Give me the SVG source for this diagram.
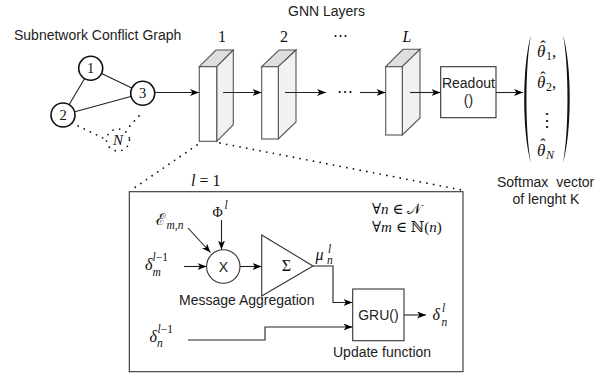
<svg xmlns="http://www.w3.org/2000/svg" width="613" height="377" viewBox="0 0 613 377">
<defs>
<marker id="ah" markerUnits="userSpaceOnUse" markerWidth="10" markerHeight="8" refX="9" refY="3.5" orient="auto">
<path d="M0,0 L9,3.5 L0,7 L2.5,3.5 z" fill="#000"/>
</marker>
<style>
.s{font-family:"Liberation Sans",Arial,sans-serif;font-size:14px;fill:#222}
.m{font-family:"Liberation Serif","DejaVu Serif",serif;fill:#111}
.i{font-style:italic}
.ln{fill:none;stroke:#222;stroke-width:1.1}
.ar{fill:none;stroke:#222;stroke-width:1.1;marker-end:url(#ah)}
.dot{fill:none;stroke:#111;stroke-width:1.8;stroke-dasharray:0 6.8;stroke-linecap:round}
.front{fill:#fff;stroke:#555;stroke-width:1.1}
.top{fill:#dedede;stroke:#555;stroke-width:1.1}
.side{fill:#f1f1f1;stroke:#555;stroke-width:1.1}
.node{fill:#fff;stroke:#111;stroke-width:1.6}
.box{fill:#fff;stroke:#333;stroke-width:1.1}
.hat{font-style:normal;font-size:16px}
.sub{font-style:normal;font-size:12px}
</style>
</defs>
<rect width="613" height="377" fill="#fff"/>

<g id="graph">
<text class="s" x="14" y="40">Subnetwork Conflict Graph</text>
<g class="ln" stroke="#444">
<line x1="90.7" y1="68.3" x2="142.7" y2="93.3"/>
<line x1="90.7" y1="68.3" x2="63" y2="115"/>
<line x1="63" y1="115" x2="142.7" y2="93.3"/>
</g>
<path class="dot" d="M72,123 L104,138.5"/>
<path class="dot" d="M139,116 L127.5,128.5"/>
<ellipse class="dot" cx="118" cy="140" rx="11.5" ry="11"/>
<text class="m i" x="118" y="145" font-size="15" text-anchor="middle">N</text>
<g id="n1"><circle class="node" cx="90.7" cy="68.3" r="12"/><text class="m" x="90.7" y="73.3" font-size="14.5" text-anchor="middle">1</text></g>
<g id="n2"><circle class="node" cx="63" cy="115" r="12"/><text class="m" x="63" y="120" font-size="14.5" text-anchor="middle">2</text></g>
<g id="n3"><circle class="node" cx="142.7" cy="93.3" r="12"/><text class="m" x="142.7" y="98.3" font-size="14.5" text-anchor="middle">3</text></g>
</g>

<text class="s" x="288" y="15.5">GNN Layers</text>

<g id="layer1">
<text class="m" x="222" y="42" font-size="16" text-anchor="middle">1</text>
<polygon class="top" points="199.3,66.7 216,50 233.3,50 216.7,66.7"/>
<polygon class="side" points="216.7,66.7 233.3,50 233.3,124.7 216.7,141.3"/>
<rect class="front" x="199.3" y="66.7" width="17.4" height="74.6"/>
</g>
<g id="layer2">
<text class="m" x="284" y="42" font-size="16" text-anchor="middle">2</text>
<polygon class="top" points="261.7,66.7 279,50 296,50 278.3,66.7"/>
<polygon class="side" points="278.3,66.7 296,50 296,122 278.3,139"/>
<rect class="front" x="261.7" y="66.7" width="16.6" height="72.3"/>
</g>
<text class="m" x="340" y="40" font-size="15" text-anchor="middle">⋯</text>
<g id="layerL">
<text class="m i" x="407" y="42" font-size="16" text-anchor="middle">L</text>
<polygon class="top" points="385.7,66.7 403,49.3 420,49.3 402.3,66.7"/>
<polygon class="side" points="402.3,66.7 420,49.3 420,118 402.3,135"/>
<rect class="front" x="385.7" y="66.7" width="16.6" height="68.3"/>
</g>
<text class="m" x="345" y="97" font-size="16" text-anchor="middle">⋯</text>

<g id="readout">
<rect class="box" x="440.7" y="66.7" width="55.3" height="51"/>
<text class="s" x="468.4" y="87.5" font-size="13.5" text-anchor="middle">Readout</text>
<text class="s" x="468.4" y="105" font-size="13.5" text-anchor="middle">()</text>
</g>

<g id="vector">
<path d="M531,35 C522,65 522,133 531,163 C525,133 525,65 531,35 z" fill="#111"/>
<path d="M563,35 C572,65 572,133 563,163 C569,133 569,65 563,35 z" fill="#111"/>
<text class="m i" x="537" y="57" font-size="17">θ<tspan class="hat" dx="-5.2" dy="-5.5">ˆ</tspan><tspan class="sub" dx="0.4" dy="8.5">1</tspan><tspan font-style="normal" dy="-3">,</tspan></text>
<text class="m i" x="537" y="88" font-size="17">θ<tspan class="hat" dx="-5.2" dy="-5.5">ˆ</tspan><tspan class="sub" dx="0.4" dy="8.5">2</tspan><tspan font-style="normal" dy="-3">,</tspan></text>
<text class="m" x="547" y="126" font-size="18" text-anchor="middle">⋮</text>
<text class="m i" x="537" y="155.5" font-size="17">θ<tspan class="hat" dx="-5.2" dy="-5.5">ˆ</tspan><tspan font-size="12" dx="0.4" dy="8.5">N</tspan></text>
<text class="s" x="497" y="187" xml:space="preserve">Softmax  vector</text>
<text class="s" x="512.5" y="203.5">of lenght K</text>
</g>

<g id="detail">
<rect class="box" x="129.3" y="191.7" width="333.7" height="180" stroke="#444"/>
<text class="m" x="191" y="186" font-size="16"><tspan class="i">l</tspan> = 1</text>
<text class="m" x="372" y="213.5" font-size="15">∀<tspan class="i">n</tspan> ∈ 𝒩</text>
<text class="m" x="372" y="232" font-size="15">∀<tspan class="i">m</tspan> ∈ ℕ(<tspan class="i">n</tspan>)</text>

<text class="m" x="156" y="225" font-size="16">ℰ<tspan class="i" font-size="11.5" dx="0.5" dy="4">m,n</tspan></text>
<text class="m" x="212.5" y="217" font-size="14">Φ</text>
<text class="m i" x="224.5" y="209" font-size="11.5">l</text>
<text class="m i" x="145" y="270" font-size="16">δ</text>
<text class="m" x="152.5" y="261" font-size="11.5"><tspan class="i">l</tspan>−1</text>
<text class="m i" x="152.5" y="275.5" font-size="11.5">m</text>

<g id="mult"><circle class="box" cx="223.3" cy="266.5" r="16.7" stroke="#222"/>
<text class="s" x="223.3" y="271.5" font-size="13.5" text-anchor="middle">X</text></g>
<g id="sum"><polygon class="box" points="261.7,235 261.7,296 313,266" stroke="#222"/>
<text class="m" x="286.5" y="271" font-size="16" text-anchor="middle">Σ</text></g>

<text class="m i" x="315.5" y="260" font-size="16">μ</text>
<text class="m i" x="328" y="252.5" font-size="11.5">l</text>
<text class="m i" x="327" y="264" font-size="11.5">n</text>

<text class="s" x="179" y="305">Message Aggregation</text>

<g id="gru"><rect class="box" x="352.7" y="289" width="51.3" height="51.7" stroke="#222"/>
<text class="s" x="378.4" y="319.5" font-size="13.5" text-anchor="middle">GRU()</text></g>
<text class="s" x="333" y="357">Update function</text>

<text class="m i" x="432.5" y="320" font-size="16">δ</text>
<text class="m i" x="442" y="312" font-size="11.5">l</text>
<text class="m i" x="441.5" y="325.5" font-size="11.5">n</text>

<text class="m i" x="149.5" y="341.5" font-size="16">δ</text>
<text class="m" x="157.5" y="333" font-size="11.5"><tspan class="i">l</tspan>−1</text>
<text class="m i" x="157" y="347" font-size="11.5">n</text>
</g>

<g id="connectors">
<path class="ar" d="M155,92.5 L199,92.5"/>
<path class="ar" d="M223,92.5 L261.5,92.5"/>
<path class="ar" d="M285,92.5 L326,92.5"/>
<path class="ar" d="M360,92.5 L385.5,92.5"/>
<path class="ar" d="M410,92.5 L440.5,92.5"/>
<path class="ar" d="M496,92.5 L523,92.5"/>
<path class="dot" d="M197,145 L132,189.5"/>
<path class="dot" d="M220,143 L462,190"/>
<path class="ar" d="M221.5,220 L221.5,249.5"/>
<path class="ar" d="M188,228 L210.5,252.5"/>
<path class="ar" d="M184,266.5 L206.5,266.5"/>
<path class="ar" d="M240,266.5 L261.5,266.5"/>
<path class="ar" d="M313,266 L333,266 L333,302.5 L352.5,302.5"/>
<path class="ar" d="M188,340 L265,340 L265,327 L352.5,327"/>
<path class="ar" d="M404,315 L426,315"/>
</g>
</svg>
